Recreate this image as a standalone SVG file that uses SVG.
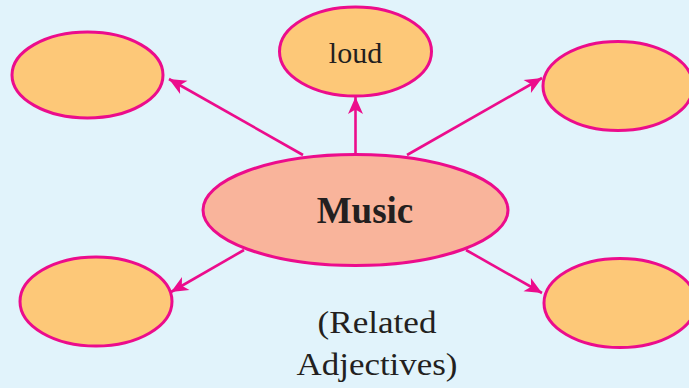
<svg xmlns="http://www.w3.org/2000/svg" width="689" height="388" viewBox="0 0 689 388">
<defs>
<style>
.leaf{fill:#fdc878;stroke:#ec0c8c;stroke-width:3}
.hub{fill:#f9b49b;stroke:#ec0c8c;stroke-width:3}
.conn{stroke:#ec0c8c;stroke-width:2.6;fill:none;marker-end:url(#ah)}
.t{font-family:'Liberation Serif',serif;fill:#231f20;text-anchor:middle}
</style>
<marker id="ah" markerUnits="userSpaceOnUse" markerWidth="20" markerHeight="20" viewBox="-18 -10 20 20" refX="0" refY="0" orient="auto">
<path d="M0,0 L-17,-7.5 L-12.5,0 L-17,7.5 Z" fill="#ec0c8c"/>
</marker>
</defs>
<rect width="689" height="388" fill="#e1f3fb"/>
<g id="connectors">
<line class="conn" x1="303" y1="155" x2="169" y2="79"/>
<line class="conn" x1="355.5" y1="155" x2="355.5" y2="97"/>
<line class="conn" x1="407" y1="155" x2="542" y2="78"/>
<line class="conn" x1="244" y1="250" x2="171" y2="292"/>
<line class="conn" x1="466" y1="250" x2="542" y2="293"/>
</g>
<g id="node-top-left"><ellipse class="leaf" cx="87.5" cy="75" rx="75.5" ry="43"/></g>
<g id="node-loud"><ellipse class="leaf" cx="355.5" cy="51.5" rx="76" ry="44.5"/><text class="t" x="355.5" y="63" font-size="30">loud</text></g>
<g id="node-top-right"><ellipse class="leaf" cx="618" cy="86" rx="75" ry="44.5"/></g>
<g id="node-bottom-left"><ellipse class="leaf" cx="96" cy="301.5" rx="76" ry="44.5"/></g>
<g id="node-bottom-right"><ellipse class="leaf" cx="620" cy="303" rx="76" ry="44.5"/></g>
<g id="node-music"><ellipse class="hub" cx="355.5" cy="210" rx="152.5" ry="55.5"/><text class="t" x="365" y="223" font-size="37" font-weight="bold">Music</text></g>
<g id="caption">
<text class="t" x="377" y="333" font-size="32" textLength="119" lengthAdjust="spacingAndGlyphs">(Related</text>
<text class="t" x="377" y="375" font-size="32" textLength="161" lengthAdjust="spacingAndGlyphs">Adjectives)</text>
</g>
</svg>
